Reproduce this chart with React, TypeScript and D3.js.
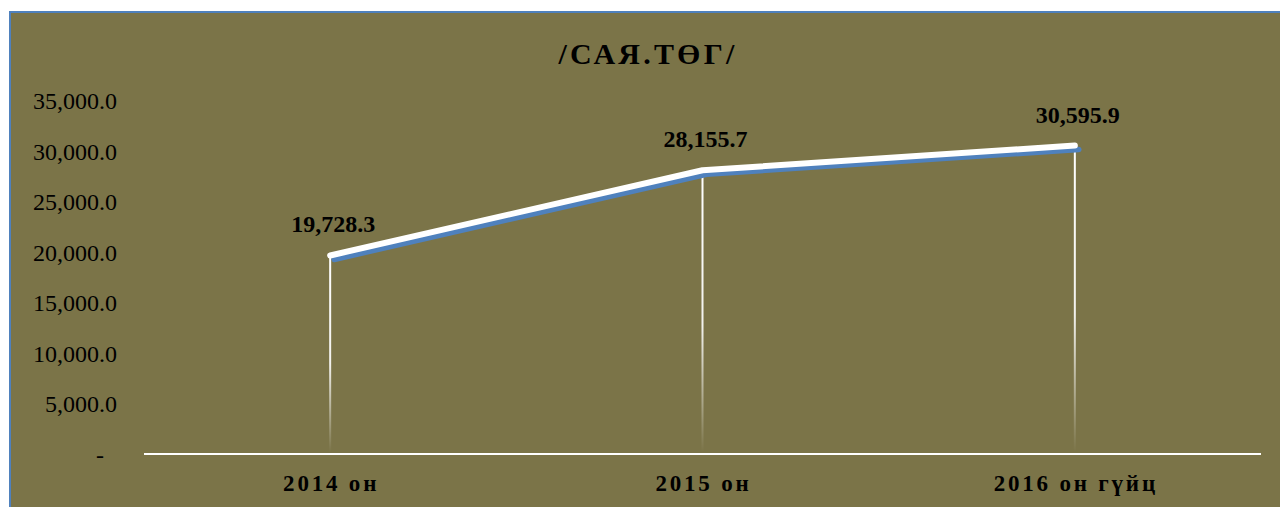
import React from "react";
import * as d3 from "d3";

const categories = ["2014 он", "2015 он", "2016 он гүйц"];
const values = [19728.3, 28155.7, 30595.9];
const valueLabels = ["19,728.3", "28,155.7", "30,595.9"];
const yTicks = [0, 5000, 10000, 15000, 20000, 25000, 30000, 35000];
const title = "/САЯ.ТӨГ/";

export default function App() {
  const W = 1280, H = 507;
  const x = d3.scaleBand<string>().domain(categories).range([144, 1261]);
  const y = d3.scaleLinear().domain([0, 35000]).range([455, 101]);
  const cx = (c: string) => (x(c) as number) + x.bandwidth() / 2;
  const pts: [number, number][] = categories.map((c, i) => [cx(c), y(values[i])]);
  const line = d3.line();
  const shadow = pts.map(([a, b]) => [a + 4, b + 4] as [number, number]);
  const font = "'Liberation Serif', 'Times New Roman', serif";
  const fmt = (v: number) => (v === 0 ? "-" : d3.format(",.1f")(v));
  return (
    <svg width={W} height={H} style={{ position: "absolute", left: 0, top: 0 }}>
      <defs>
        <linearGradient id="drop" x1="0" y1="0" x2="0" y2="1">
          <stop offset="0" stopColor="#ffffff" stopOpacity={1} />
          <stop offset="0.55" stopColor="#ffffff" stopOpacity={0.9} />
          <stop offset="1" stopColor="#ffffff" stopOpacity={0} />
        </linearGradient>
      </defs>
      <rect x={10} y={12} width={1280} height={520} fill="#7B7448" stroke="#4F81BD" strokeWidth={2} />
      <text x={648} y={64} textAnchor="middle" fontFamily={font} fontWeight="bold" fontSize={30} letterSpacing={3.2} fill="#000">
        {title}
      </text>
      {yTicks.map((t) => (
        <text key={t} x={t === 0 ? 104 : 117} y={y(t) + 8} textAnchor="end" fontFamily={font} fontSize={24} fill="#000">
          {fmt(t)}
        </text>
      ))}
      <line x1={144} x2={1261} y1={454} y2={454} stroke="#fff" strokeWidth={2} />
      {pts.map(([px, py], i) => (
        <rect key={i} x={px - 1} y={py} width={2} height={452 - py} fill="url(#drop)" />
      ))}
      <path d={line(shadow) || ""} fill="none" stroke="#4F81BD" strokeWidth={5.5} strokeLinecap="round" strokeLinejoin="round" />
      <path d={line(pts) || ""} fill="none" stroke="#ffffff" strokeWidth={6} strokeLinecap="round" strokeLinejoin="round" />
      {pts.map(([px, py], i) => (
        <text key={i} x={px + 3} y={py - 23} textAnchor="middle" fontFamily={font} fontWeight="bold" fontSize={24} fill="#000">
          {valueLabels[i]}
        </text>
      ))}
      {categories.map((c) => (
        <text key={c} x={cx(c) + 1} y={491} textAnchor="middle" fontFamily={font} fontWeight="bold" fontSize={23} letterSpacing={2.8} fill="#000">
          {c}
        </text>
      ))}
    </svg>
  );
}
